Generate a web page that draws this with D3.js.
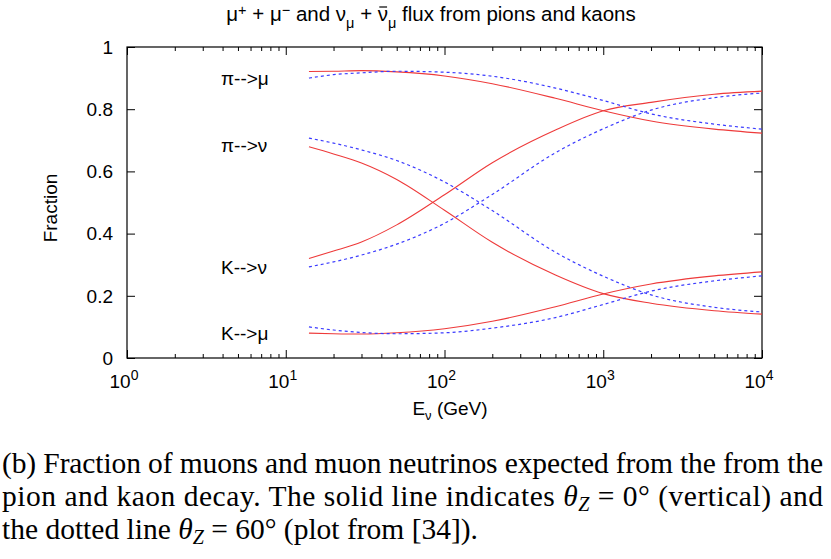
<!DOCTYPE html>
<html><head><meta charset="utf-8">
<script src="https://cdn.jsdelivr.net/npm/d3@7"></script>
<style>
  body { margin: 0; background: #fff; }
  svg { display: block; }
  .sans { font-family: "Liberation Sans", Arial, Helvetica, sans-serif; }
  .serif { font-family: "Liberation Serif", "Times New Roman", serif; }
</style>
</head><body>
<svg id="chart" width="831" height="559"></svg>
<script>
// Neutrino energy (GeV) at which the fractions are tabulated
const energies = [14, 20, 30, 50, 100, 200, 500, 1000, 2000, 5000, 10000];

// theta_z = 0 deg (vertical), solid lines
const piMuVert = [0.921, 0.922, 0.924, 0.920, 0.907, 0.882, 0.835, 0.795, 0.762, 0.736, 0.723];
const kMuVert  = [0.080, 0.078, 0.077, 0.081, 0.094, 0.118, 0.165, 0.206, 0.238, 0.264, 0.277];
const piNuVert = [0.679, 0.656, 0.627, 0.574, 0.475, 0.372, 0.267, 0.207, 0.176, 0.152, 0.141];
const kNuVert  = [0.320, 0.344, 0.373, 0.428, 0.525, 0.628, 0.733, 0.795, 0.822, 0.848, 0.858];

// theta_z = 60 deg, dotted lines
const piMuIncl = [0.900, 0.911, 0.917, 0.922, 0.919, 0.906, 0.868, 0.828, 0.785, 0.752, 0.736];
const kMuIncl  = [0.100, 0.090, 0.082, 0.078, 0.081, 0.096, 0.130, 0.172, 0.215, 0.248, 0.264];
const piNuIncl = [0.707, 0.691, 0.669, 0.635, 0.566, 0.474, 0.340, 0.263, 0.203, 0.163, 0.148];
const kNuIncl  = [0.293, 0.309, 0.331, 0.366, 0.433, 0.526, 0.660, 0.737, 0.797, 0.837, 0.852];

// Curve labels and the fraction they sit at
const labelTexts  = ["π-->μ", "π-->ν", "K-->ν", "K-->μ"];
const labelValues = [0.90, 0.685, 0.293, 0.08];

// Axis ticks
const xMajor = [1, 10, 100, 1000, 10000];
const xExponents = ["0", "1", "2", "3", "4"];
const yTicks = [0, 0.2, 0.4, 0.6, 0.8, 1];
const yTickLabels = ["0", "0.2", "0.4", "0.6", "0.8", "1"];

const svg = d3.select("#chart");
const L = 127, R = 762, T = 47, B = 358;
const FS = 19;

const x = d3.scaleLog().domain([1, 10000]).range([L, R]);
const y = d3.scaleLinear().domain([0, 1]).range([B, T]);

const xMinor = [];
for (let d = 1; d < 10000; d *= 10) for (let k = 2; k <= 9; k++) xMinor.push(d * k);

// Minor and major ticks on bottom / top, pointing inward
function tickAxis(axisFn, pos, vals, size) {
  const g = svg.append("g").attr("transform", pos)
    .call(axisFn(x).tickValues(vals).tickSizeInner(size).tickSizeOuter(0).tickFormat(""));
  g.select(".domain").remove();
  g.selectAll("line").attr("stroke", "#000").attr("stroke-width", 1);
}
tickAxis(d3.axisBottom, `translate(0,${B})`, xMinor, -4);
tickAxis(d3.axisBottom, `translate(0,${B})`, xMajor, -8);
tickAxis(d3.axisTop, `translate(0,${T})`, xMinor, -4);
tickAxis(d3.axisTop, `translate(0,${T})`, xMajor, -8);

function yAxis(axisFn, pos) {
  const g = svg.append("g").attr("transform", pos)
    .call(axisFn(y).tickValues(yTicks).tickSizeInner(-8).tickSizeOuter(0).tickFormat(""));
  g.select(".domain").remove();
  g.selectAll("line").attr("stroke", "#000").attr("stroke-width", 1);
}
yAxis(d3.axisLeft, `translate(${L},0)`);
yAxis(d3.axisRight, `translate(${R},0)`);

// Frame
svg.append("rect").attr("x", L).attr("y", T).attr("width", R - L).attr("height", B - T)
  .attr("fill", "none").attr("stroke", "#000").attr("stroke-width", 1.2);

// Y tick labels
svg.append("g").attr("class", "sans").selectAll("text").data(yTicks).join("text")
  .attr("x", 113).attr("y", d => y(d)).attr("dy", "0.36em")
  .attr("text-anchor", "end").attr("font-size", FS)
  .text((d, i) => yTickLabels[i]);

// X tick labels: 10^n
const xl = svg.append("g").attr("class", "sans").selectAll("text").data(xMajor).join("text")
  .attr("x", d => x(d) - 3).attr("y", 388).attr("text-anchor", "middle").attr("font-size", FS);
xl.append("tspan").text("10");
xl.append("tspan").attr("dy", -8).attr("font-size", 14).text((d, i) => xExponents[i]);

// Axis titles
svg.append("text").attr("class", "sans").attr("font-size", FS)
  .attr("transform", "translate(57,208) rotate(-90)").attr("text-anchor", "middle")
  .text("Fraction");
const xt = svg.append("text").attr("class", "sans").attr("font-size", FS)
  .attr("x", 450).attr("y", 415).attr("text-anchor", "middle");
xt.append("tspan").text("E");
xt.append("tspan").attr("dy", 5).attr("font-size", 13).text("ν");
xt.append("tspan").attr("dy", -5).text(" (GeV)");

// Title, built from pieces: [text, baseline shift, small?]
const titleParts = [
  ["μ", 0, false], ["+", -6, true], [" + μ", 0, false], ["−", -6, true],
  [" and ν", 0, false], ["μ", 7, true], [" + ν", 0, false], ["μ", 7, true],
  [" flux from pions and kaons", 0, false]
];
const tt = svg.append("text").attr("class", "sans").attr("font-size", 20.5)
  .attr("x", 431).attr("y", 21).attr("text-anchor", "middle");
let prevShift = 0, charIndex = 0, barIndex = -1;
titleParts.forEach(([s, shift, small], i) => {
  tt.append("tspan").attr("dy", shift - prevShift).attr("font-size", small ? 14.5 : 20.5).text(s);
  prevShift = shift;
  if (i === 6) barIndex = charIndex + s.length - 1;
  charIndex += s.length;
});
// Overbar on the anti-neutrino symbol
{
  const node = tt.node();
  const ext = node.getExtentOfChar(barIndex);
  svg.append("line")
    .attr("x1", ext.x + 1.5).attr("x2", ext.x + ext.width - 1)
    .attr("y1", ext.y + 5).attr("y2", ext.y + 5)
    .attr("stroke", "#000").attr("stroke-width", 1.2);
}

// Curves
const line = d3.line().x((d, i) => x(energies[i])).y(d => y(d)).curve(d3.curveMonotoneX);
const solid = [piMuVert, kMuVert, piNuVert, kNuVert];
const dotted = [piMuIncl, kMuIncl, piNuIncl, kNuIncl];

svg.append("g").selectAll("path").data(solid).join("path")
  .attr("d", line).attr("fill", "none").attr("stroke", "#ee3a3a").attr("stroke-width", 1.1);
svg.append("g").selectAll("path").data(dotted).join("path")
  .attr("d", line).attr("fill", "none").attr("stroke", "#3b3bff").attr("stroke-width", 1.2)
  .attr("stroke-dasharray", "3,3");

// Curve labels
svg.append("g").attr("class", "sans").selectAll("text").data(labelValues).join("text")
  .attr("x", 221).attr("y", d => y(d)).attr("dy", "0.36em").attr("font-size", FS)
  .text((d, i) => labelTexts[i]);

// Caption
const cap = svg.append("g").attr("class", "serif").attr("font-size", 29.5);
cap.append("text").attr("x", 2).attr("y", 473)
  .attr("textLength", 821).attr("lengthAdjust", "spacing")
  .text("(b) Fraction of muons and muon neutrinos expected from the from the");
const c2 = cap.append("text").attr("x", 2).attr("y", 506)
  .attr("textLength", 821).attr("lengthAdjust", "spacing");
c2.append("tspan").text("pion and kaon decay.  The solid line indicates ");
c2.append("tspan").attr("font-style", "italic").text("θ");
c2.append("tspan").attr("font-style", "italic").attr("font-size", 20).attr("dy", 5).text("Z");
c2.append("tspan").attr("dy", -5).text(" = 0° (vertical) and");
const c3 = cap.append("text").attr("x", 2).attr("y", 539);
c3.append("tspan").text("the dotted line ");
c3.append("tspan").attr("font-style", "italic").text("θ");
c3.append("tspan").attr("font-style", "italic").attr("font-size", 20).attr("dy", 5).text("Z");
c3.append("tspan").attr("dy", -5).text(" = 60° (plot from [34]).");
</script>
</body></html>
